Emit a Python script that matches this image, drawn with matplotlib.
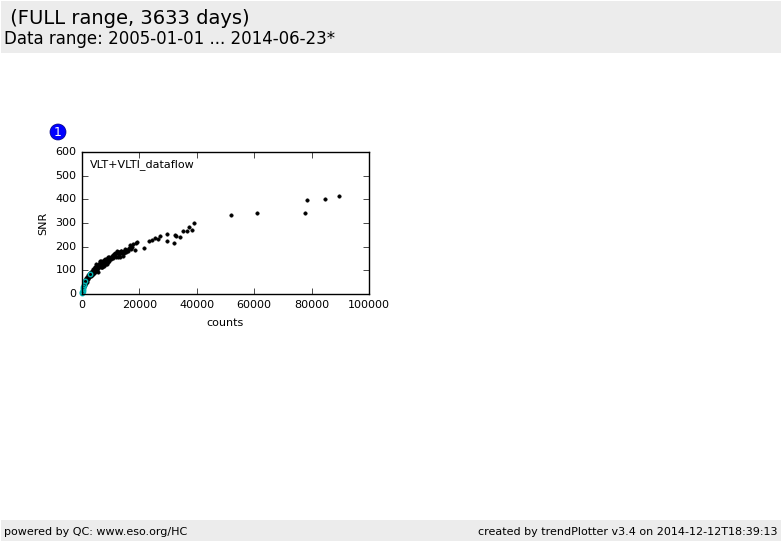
import matplotlib
matplotlib.use('Agg')
import matplotlib.pyplot as plt
from matplotlib.patches import Rectangle, Circle

plt.style.use('classic')
plt.rc('font', family='DejaVu Sans', size=8)

title_line = " (FULL range, 3633 days)"
range_line = "Data range: 2005-01-01 ... 2014-06-23*"
footer_left = "powered by QC: www.eso.org/HC"
footer_right = "created by trendPlotter v3.4 on 2014-12-12T18:39:13"
panel_label = "VLT+VLTI_dataflow"

counts = [89500, 84700, 78400, 77600, 61000, 51900, 39000, 38300, 37300, 36600, 35100, 34100,
          32600, 32300, 32100, 29600, 29600, 27200, 26500, 25400, 24400, 23300, 21600,
          19200, 18700, 18300, 17900, 17500, 17200, 16800, 16300, 15900, 15600, 15300,
          15000, 14800, 14500, 14300, 14000, 13700, 13400, 13200, 13000, 12700, 12400, 12100,
          11900, 11600, 11300, 11000, 10700, 10400, 10000, 9400, 9100, 8900, 8700, 8400,
          8200, 7900, 7600, 7400, 7100, 6900, 6700, 6500, 6200, 6000, 5800, 5600, 5300,
          5100, 4900, 4600, 4400, 4200, 3900, 3700, 3400, 3200, 3000, 2800, 2600, 2400,
          2200, 2000, 1800, 1600, 1400, 1200, 1000, 800, 600, 400, 250,
          9000, 8800, 8500, 8000, 7700, 7200, 6800, 6400, 6100, 5700, 5400, 5000, 4700,
          4300, 4000, 3600, 3300, 2900, 2500, 2100, 1700, 1500, 1300, 1100, 900, 700,
          13500, 12800, 12200, 11500, 10800, 14200, 15200,
          5000, 4500, 6500, 7000, 8600, 5600, 3500, 2700, 6300, 7500, 9300]
snr = [415, 401, 397, 342, 342, 334, 301, 270, 283, 266, 266, 241,
       245, 249, 215, 253, 224, 245, 232, 237, 228, 224, 194,
       220, 214, 186, 210, 200, 192, 205, 196, 182, 188, 178,
       192, 175, 183, 160, 172, 180, 158, 175, 165, 178, 155, 172,
       158, 168, 160, 170, 152, 162, 150, 140, 152, 135, 148, 138,
       128, 140, 120, 135, 115, 130, 138, 122, 118, 128, 112, 108, 118,
       102, 108, 100, 95, 90, 96, 85, 88, 78, 82, 74, 76, 70,
       66, 62, 58, 52, 48, 44, 38, 34, 28, 22, 14,
       155, 148, 145, 150, 142, 138, 136, 134, 126, 124, 120, 114, 116,
       106, 104, 98, 92, 90, 84, 80, 72, 68, 64, 60, 56, 50,
       182, 176, 180, 174, 166, 176, 184,
       126, 112, 112, 112, 128, 94, 82, 90, 140, 126, 158]

cal_counts = [2900, 1100, 800, 500, 350, 250, 150, 100]
cal_snr = [84, 56, 38, 28, 22, 14, 8, 4]

fig = plt.figure(figsize=(7.82, 5.42), dpi=100, facecolor='white')

# header and footer bands
fig.patches.append(Rectangle((1/782, 1-53/542), 780/782, 52/542, transform=fig.transFigure,
                             facecolor='#ececec', edgecolor='none'))
fig.patches.append(Rectangle((1/782, 1-541/542), 780/782, 21/542, transform=fig.transFigure,
                             facecolor='#ececec', edgecolor='none'))
fig.text(4/782, 1-18/542, title_line, fontsize=14, va='center', ha='left')
fig.text(4/782, 1-39/542, range_line, fontsize=11.95, va='center', ha='left')
fig.text(4/782, 1-532/542, footer_left, fontsize=8, va='center', ha='left')
fig.text(778/782, 1-532/542, footer_right, fontsize=8, va='center', ha='right')

ax = fig.add_axes([82/782, 1-294/542, 287/782, 142/542])
ax.plot(counts, snr, 'o', color='black', ms=2.4, mec='black', mew=0.5, clip_on=False)
ax.plot(cal_counts, cal_snr, 'o', mfc='none', mec='#00b5b5', ms=3.2, mew=1.0, clip_on=False)
ax.set_xlim(0, 100000)
ax.set_ylim(0, 600)
ax.set_xticks([0, 20000, 40000, 60000, 80000, 100000])
ax.set_yticks([0, 100, 200, 300, 400, 500, 600])
ax.tick_params(labelsize=8, pad=4)
ax.set_xlabel("counts", fontsize=8, labelpad=6)
ax.set_ylabel("SNR", fontsize=8, labelpad=5)
ax.text(0.027, 0.915, panel_label, transform=ax.transAxes, fontsize=8, va='center', ha='left')

# numbered blue badge
badge = fig.add_axes([0, 0, 1, 1], facecolor='none')
badge.set_xlim(0, 782)
badge.set_ylim(542, 0)
badge.axis('off')
badge.add_patch(Circle((58, 132), 8, facecolor='#0000ff', edgecolor='#000080', lw=0.5))
badge.text(58, 132, "1", color='white', fontsize=9, ha='center', va='center')

fig.savefig('out.png', dpi=100, facecolor='white')
